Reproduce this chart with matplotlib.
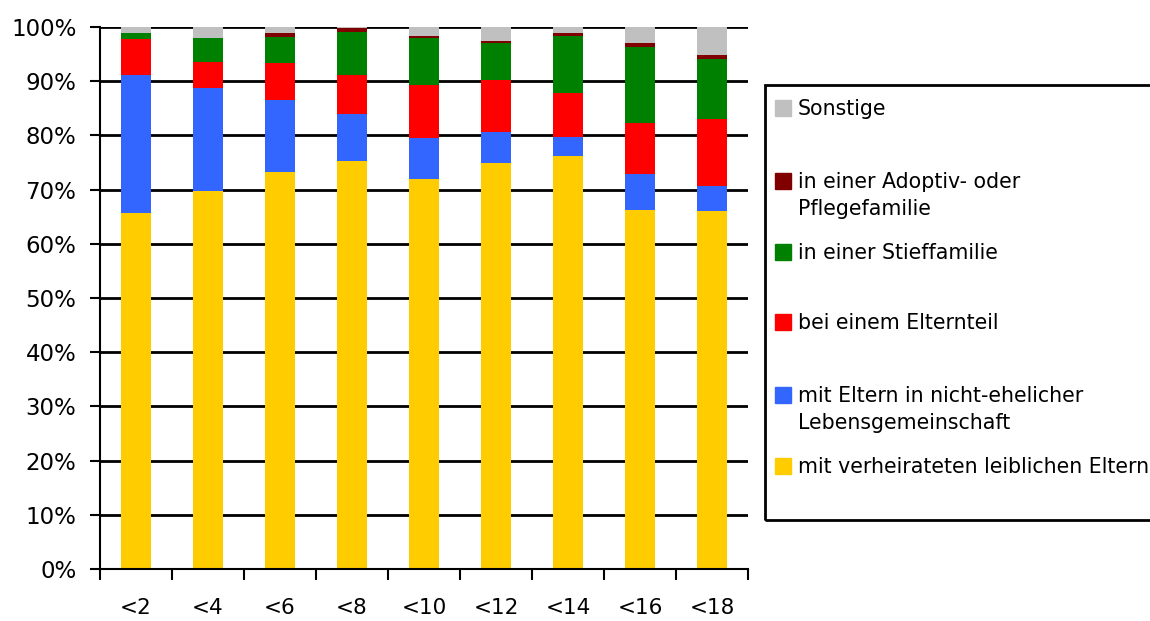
import matplotlib
matplotlib.use("Agg")
import matplotlib.pyplot as plt
from matplotlib.patches import Rectangle
import numpy as np

plt.rcParams['font.family'] = ['DejaVu Sans']

# age groups
ages = ['<2', '<4', '<6', '<8', '<10', '<12', '<14', '<16', '<18']

# shares in percent, bottom to top
verheiratet = [65.7, 69.7, 73.2, 75.3, 72.0, 74.9, 76.2, 66.2, 66.1]
nichtehelich = [25.4, 19.1, 13.4, 8.7, 7.6, 5.8, 3.5, 6.7, 4.6]
elternteil = [6.7, 4.8, 6.8, 7.1, 9.7, 9.6, 8.1, 9.4, 12.3]
stieffamilie = [1.1, 4.3, 4.8, 8.0, 8.7, 6.7, 10.5, 14.0, 11.1]
adoptiv = [0.0, 0.0, 0.7, 0.7, 0.3, 0.4, 0.6, 0.7, 0.7]
sonstige = [1.1, 2.1, 1.1, 0.2, 1.7, 2.6, 1.1, 3.0, 5.2]

series = [verheiratet, nichtehelich, elternteil, stieffamilie, adoptiv, sonstige]
labels = ['mit verheirateten leiblichen Eltern',
          'mit Eltern in nicht-ehelicher\nLebensgemeinschaft',
          'bei einem Elternteil',
          'in einer Stieffamilie',
          'in einer Adoptiv- oder\nPflegefamilie',
          'Sonstige']
colors = ['#FFCC00', '#3366FF', '#FF0000', '#008000', '#800000', '#C0C0C0']

fig = plt.figure(figsize=(11.5, 6.21), dpi=100)
ax = fig.add_axes([0.087, 0.0837, 0.5635, 0.8728])

x = np.arange(len(ages))
bottom = np.zeros(len(ages))
for vals, c in zip(series, colors):
    ax.bar(x, vals, width=0.41, bottom=bottom, color=c, zorder=3)
    bottom += np.array(vals)

ax.set_xlim(-0.5, len(ages) - 0.5)
ax.set_ylim(0, 100)
ax.set_yticks(range(0, 101, 10))
ax.set_yticklabels([f'{v}%' for v in range(0, 101, 10)], fontsize=16.5)
ax.yaxis.grid(True, color='black', linewidth=2, zorder=0)
ax.tick_params(axis='y', length=7, width=1.5, pad=10)

# ticks between the categories, labels in the middle
ax.set_xticks(np.arange(-0.5, len(ages), 1))
ax.set_xticklabels([])
ax.set_xticks(x, minor=True)
ax.set_xticklabels(ages, minor=True, fontsize=15.5)
ax.tick_params(axis='x', which='major', length=8, width=1.5)
ax.tick_params(axis='x', which='minor', length=0, pad=21)

for s in ['top', 'right']:
    ax.spines[s].set_visible(False)
for s in ['left', 'bottom']:
    ax.spines[s].set_linewidth(1.5)
    ax.spines[s].set_zorder(4)

# legend drawn by hand, first line next to the square
W, H = 1150, 621
fig.patches.append(Rectangle((765 / W, 1 - 520 / H), 400 / W, 435 / H,
                             transform=fig.transFigure, fill=False,
                             edgecolor='black', linewidth=2))
ys = [108, 181, 252, 322, 395, 466]
for lab, c, yy in zip(labels[::-1], colors[::-1], ys):
    fig.patches.append(Rectangle((775 / W, 1 - (yy + 8) / H), 16 / W, 16 / H,
                                 transform=fig.transFigure, color=c))
    fig.text(798 / W, 1 - (yy - 9) / H, lab, fontsize=14.8, va='top',
             ha='left', linespacing=1.45)

fig.savefig('out.png', dpi=100)
